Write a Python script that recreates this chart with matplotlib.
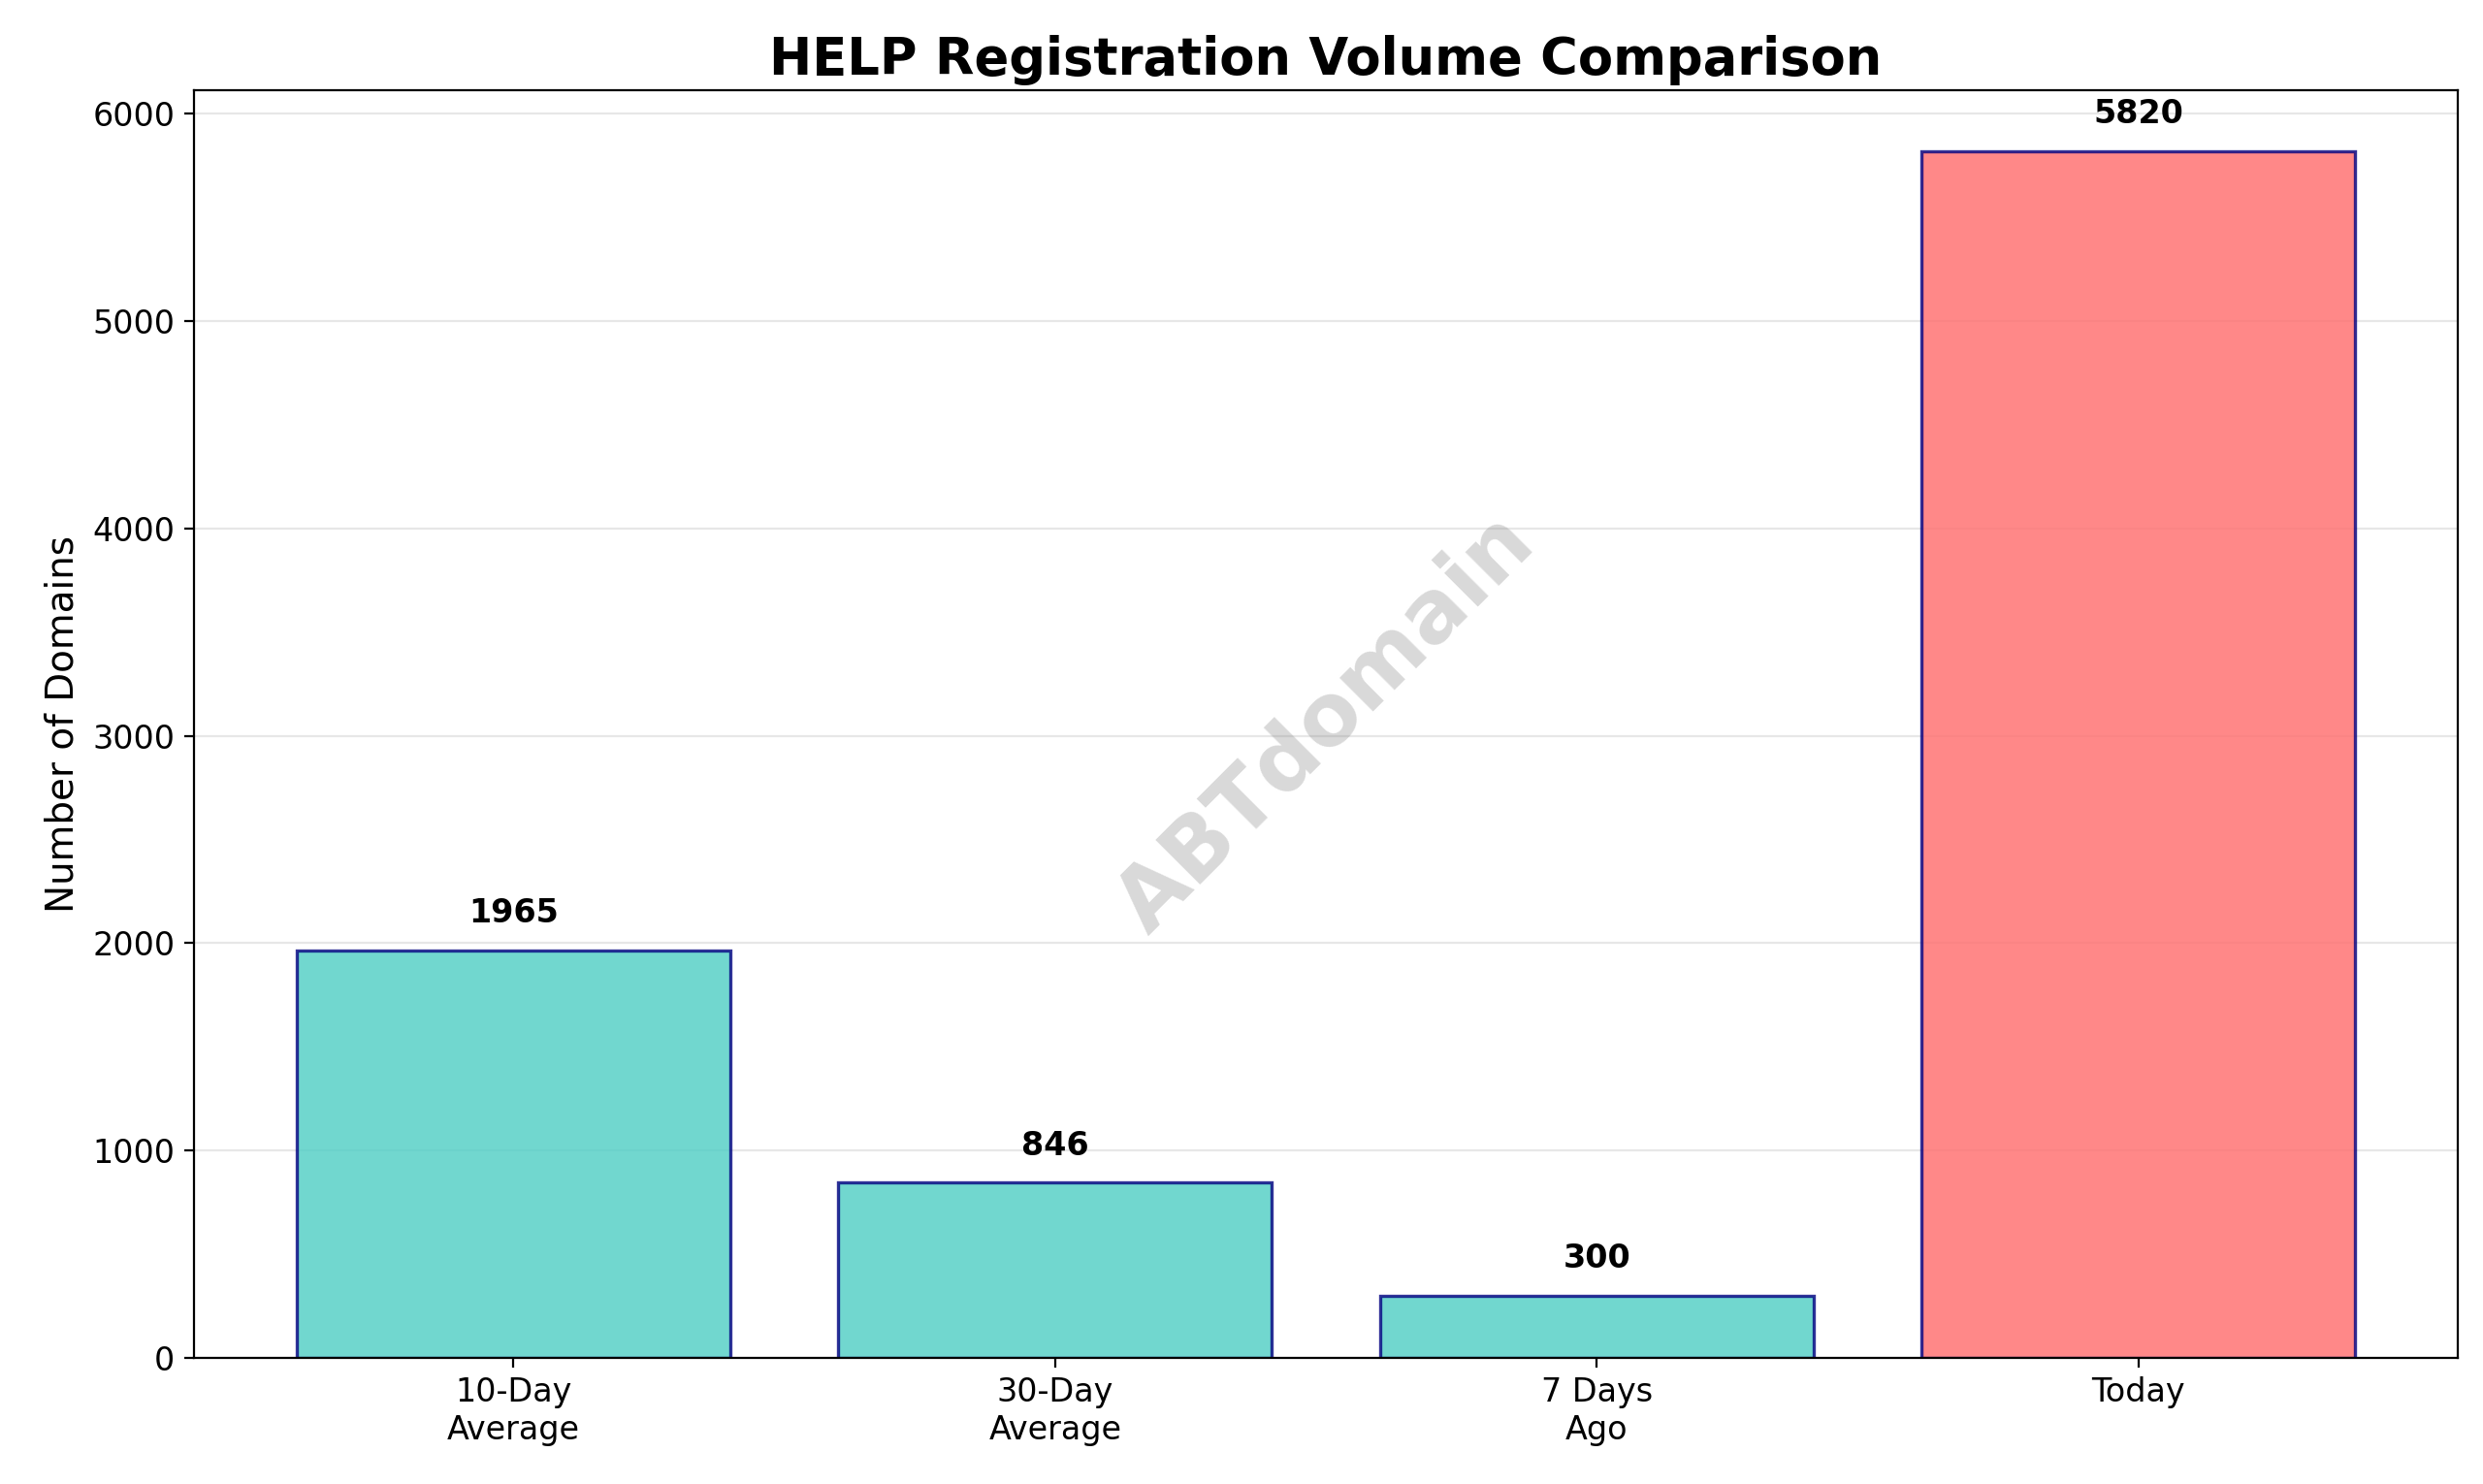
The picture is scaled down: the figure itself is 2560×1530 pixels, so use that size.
import matplotlib.pyplot as plt

categories = ["10-Day\nAverage", "30-Day\nAverage", "7 Days\nAgo", "Today"]
values = [1965, 846, 300, 5820]
colors = ["#4ECDC4", "#4ECDC4", "#4ECDC4", "#FF6B6B"]

fig, ax = plt.subplots(figsize=(12.8, 7.65), dpi=200)
bars = ax.bar(categories, values, color=colors, alpha=0.8, edgecolor="navy", linewidth=1.2)

for bar, v in zip(bars, values):
    ax.text(bar.get_x() + bar.get_width() / 2, v + 100, str(v),
            ha="center", va="bottom", fontweight="bold", fontsize=12)

ax.set_title("HELP Registration Volume Comparison", fontsize=19, fontweight="bold")
ax.set_ylabel("Number of Domains", fontsize=14)
ax.tick_params(labelsize=12)
ax.grid(axis="y", alpha=0.3)
ax.set_axisbelow(True)

ax.text(0.5, 0.5, "ABTdomain", transform=ax.transAxes, fontsize=32, fontweight="bold",
        color="gray", alpha=0.3, rotation=45, ha="center", va="center")

plt.subplots_adjust(left=0.078, right=0.99, top=0.939, bottom=0.085)
plt.savefig("out.png", dpi=200)
